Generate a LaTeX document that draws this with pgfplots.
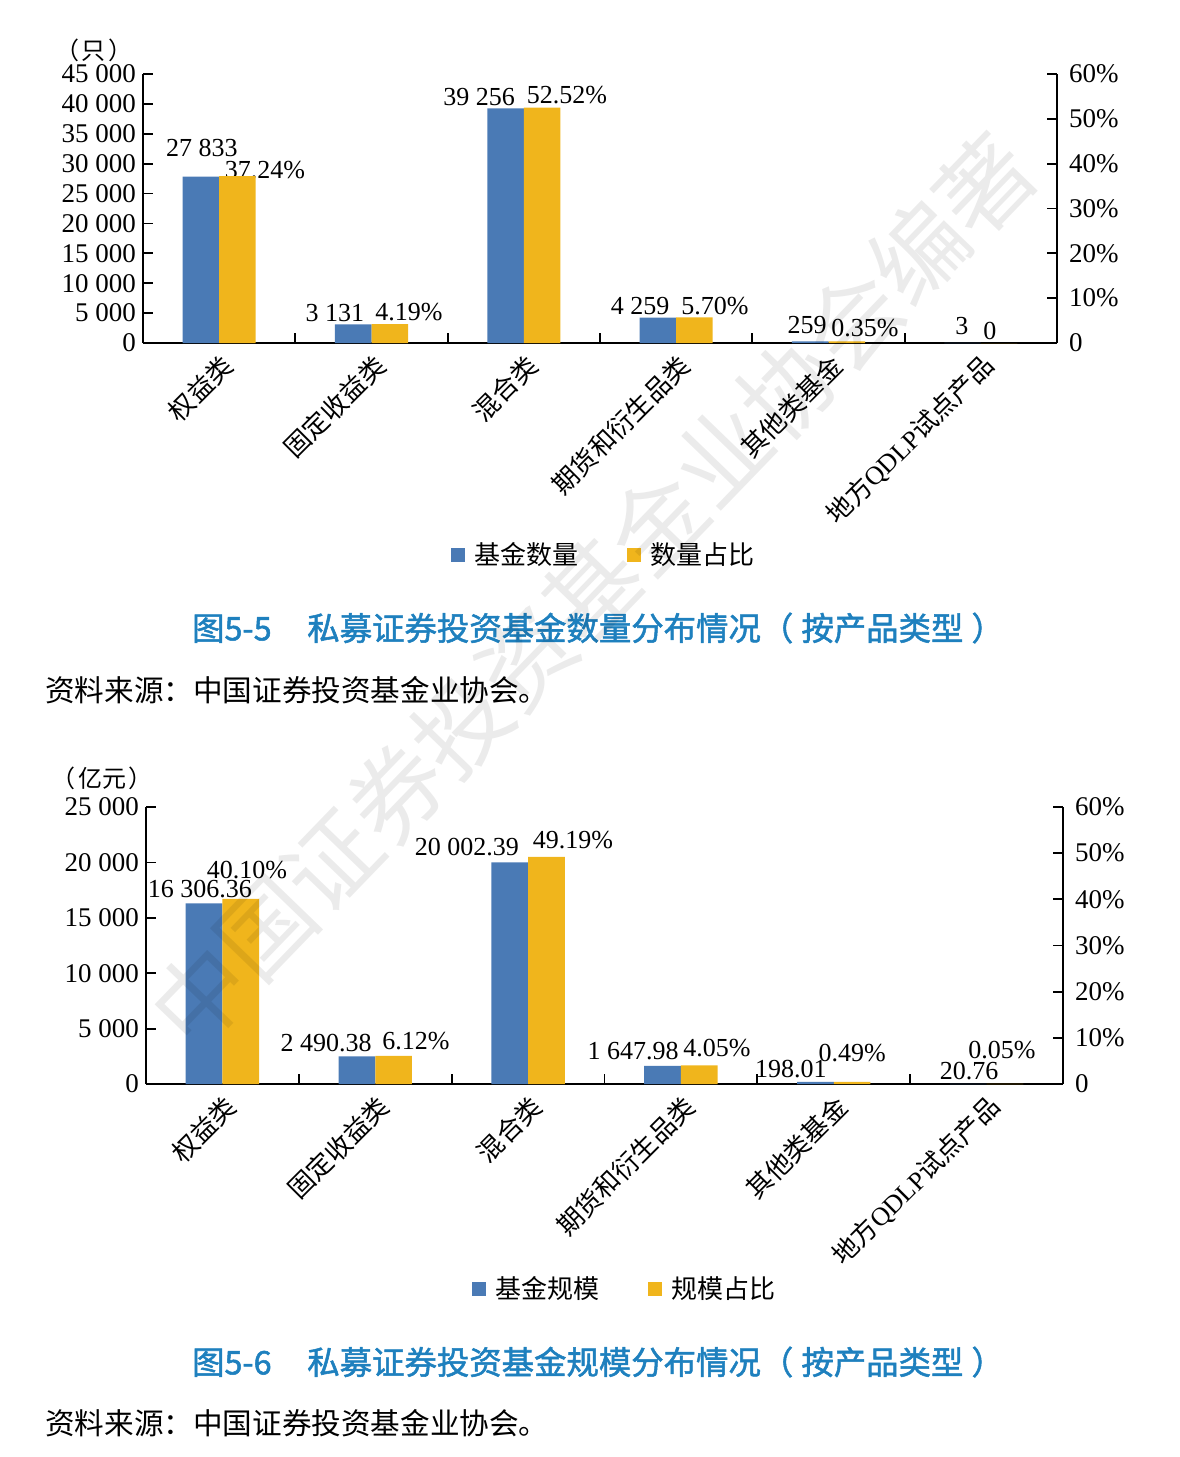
\documentclass[border=0pt]{standalone}
\usepackage{pgfplots}
\pgfplotsset{compat=1.18}
\usepackage{fontspec}
\setmainfont{Liberation Serif}
\newfontfamily\cjk{Noto Sans CJK SC}
\newfontfamily\cjkb[FakeBold=1.6]{Noto Sans CJK SC}
\definecolor{myblue}{RGB}{74,122,181}
\definecolor{myyellow}{RGB}{240,181,28}
\definecolor{capblue}{RGB}{30,128,190}
\newcommand\ts{\hspace{0.25em}}
\newcommand\fs[1]{\fontsize{#1}{#1}\selectfont}
\pgfplotsset{
  base/.style={scale only axis, xmin=-0.5, xmax=5.5, tick align=inside,
    major tick length=5pt, axis line style={line width=0.9pt},
    every tick/.append style={black, line width=0.9pt},
    scaled y ticks=false,
    tick label style={font=\fs{13.5}}, clip=false},
  catlabels/.style={xtick={0.5,1.5,2.5,3.5,4.5}, xticklabels={},
    extra x ticks={0,1,2,3,4,5},
    extra x tick labels={权益类,固定收益类,混合类,期货和衍生品类,其他类基金,{地方{\rmfamily QDLP}试点产品}},
    extra x tick style={major tick length=0pt,
      tick label style={rotate=45, anchor=east, inner sep=0pt, xshift=-3pt, yshift=-9.5pt, font=\cjk\fs{13}}}},
  legstyle/.style={legend style={at={#1}, anchor=center, draw=none, fill=none, legend columns=2,
      font=\cjk\fs{13}, /tikz/every even column/.append style={column sep=22pt}},
    legend image code/.code={\fill[##1] (0pt,-3.5pt) rectangle (7pt,3.5pt); \path (10pt,0pt);}},
  rightax/.style={yticklabel style={xshift=2.5pt}},
}
\begin{document}
\begin{tikzpicture}
\useasboundingbox (0pt,0pt) rectangle (589.5pt,-728.5pt);

% ---------------- Chart 1 ----------------
\begin{axis}[base, catlabels, at={(71.5pt,-171.5pt)}, anchor=south west,
  width=457pt, height=134.5pt, ymin=0, ymax=45000,
  axis y line*=left, axis x line*=bottom,
  ytick={0,5000,...,45000},
  yticklabels={0,5\ts000,10\ts000,15\ts000,20\ts000,25\ts000,30\ts000,35\ts000,40\ts000,45\ts000},
  legstyle={(0.505,-0.788)}]
\addplot[ybar, fill=myblue, draw=none, bar width=0.24, bar shift=-0.12, forget plot]
  coordinates {(0,27833) (1,3131) (2,39256) (3,4259) (4,259) (5,3)};
\addlegendimage{fill=myblue, draw=none}
\addlegendimage{fill=myyellow, draw=none}
\legend{基金数量,数量占比}
\node[font=\fs{13}] at (axis cs:-0.113,32622) {27\ts833};
\node[font=\fs{13}] at (axis cs:0.301,28941) {37.24\%};
\node[font=\fs{13}] at (axis cs:0.760,5019) {3\ts131};
\node[font=\fs{13}] at (axis cs:1.246,5186) {4.19\%};
\node[font=\fs{13}] at (axis cs:1.706,41153) {39\ts256};
\node[font=\fs{13}] at (axis cs:2.283,41488) {52.52\%};
\node[font=\fs{13}] at (axis cs:2.763,6190) {4\ts259};
\node[font=\fs{13}] at (axis cs:3.255,6190) {5.70\%};
\node[font=\fs{13}] at (axis cs:3.859,3011) {259};
\node[font=\fs{13}] at (axis cs:4.240,2509) {0.35\%};
\node[font=\fs{13}] at (axis cs:4.876,2844) {3};
\node[font=\fs{13}] at (axis cs:5.060,2007) {0};
\end{axis}
\begin{axis}[base, rightax, at={(71.5pt,-171.5pt)}, anchor=south west,
  width=457pt, height=134.5pt, ymin=0, ymax=60,
  axis y line*=right, axis x line=none,
  ytick={0,10,...,60}, yticklabels={0,10\%,20\%,30\%,40\%,50\%,60\%}]
\addplot[ybar, fill=myyellow, draw=none, bar width=0.24, bar shift=0.12]
  coordinates {(0,37.24) (1,4.19) (2,52.52) (3,5.70) (4,0.35) (5,0)};
\end{axis}
\node[font=\cjk\fs{12}] at (47pt,-25pt) {（\hspace{0.1em}只\hspace{0.1em}）};
\node[font=\cjkb\fs{16.2}, text=capblue] at (299pt,-314pt) {图5-5\hspace{1.1em}私募证券投资基金数量分布情况（\hspace{0.25em}按产品类型\hspace{0.25em}）};
\node[font=\cjk\fs{14.8}, anchor=west, inner sep=0pt] at (22.5pt,-345pt) {资料来源：中国证券投资基金业协会。};

% ---------------- Chart 2 ----------------
\begin{axis}[base, catlabels, at={(73pt,-542pt)}, anchor=south west,
  width=458.5pt, height=138.5pt, ymin=0, ymax=25000,
  axis y line*=left, axis x line*=bottom,
  ytick={0,5000,...,25000},
  yticklabels={0,5\ts000,10\ts000,15\ts000,20\ts000,25\ts000},
  legstyle={(0.523,-0.740)}]
\addplot[ybar, fill=myblue, draw=none, bar width=0.24, bar shift=-0.12, forget plot]
  coordinates {(0,16306.36) (1,2490.38) (2,20002.39) (3,1647.98) (4,198.01) (5,20.76)};
\addlegendimage{fill=myblue, draw=none}
\addlegendimage{fill=myyellow, draw=none}
\legend{基金规模,规模占比}
\node[font=\fs{13}] at (axis cs:-0.147,17599) {16\ts306.36};
\node[font=\fs{13}] at (axis cs:0.161,19314) {40.10\%};
\node[font=\fs{13}] at (axis cs:0.678,3700) {2\ts490.38};
\node[font=\fs{13}] at (axis cs:1.267,3881) {6.12\%};
\node[font=\fs{13}] at (axis cs:1.600,21389) {20\ts002.39};
\node[font=\fs{13}] at (axis cs:2.294,22021) {49.19\%};
\node[font=\fs{13}] at (axis cs:2.687,2978) {1\ts647.98};
\node[font=\fs{13}] at (axis cs:3.236,3249) {4.05\%};
\node[font=\fs{13}] at (axis cs:3.720,1354) {198.01};
\node[font=\fs{13}] at (axis cs:4.120,2798) {0.49\%};
\node[font=\fs{13}] at (axis cs:4.885,1173) {20.76};
\node[font=\fs{13}] at (axis cs:5.101,3069) {0.05\%};
\end{axis}
\begin{axis}[base, rightax, at={(73pt,-542pt)}, anchor=south west,
  width=458.5pt, height=138.5pt, ymin=0, ymax=60,
  axis y line*=right, axis x line=none,
  ytick={0,10,...,60}, yticklabels={0,10\%,20\%,30\%,40\%,50\%,60\%}]
\addplot[ybar, fill=myyellow, draw=none, bar width=0.24, bar shift=0.12]
  coordinates {(0,40.10) (1,6.12) (2,49.19) (3,4.05) (4,0.49) (5,0.05)};
\end{axis}
\node[font=\cjk\fs{12}] at (51pt,-389pt) {（\hspace{0.1em}亿元\hspace{0.1em}）};
\node[font=\cjkb\fs{16.2}, text=capblue] at (299pt,-681pt) {图5-6\hspace{1.1em}私募证券投资基金规模分布情况（\hspace{0.25em}按产品类型\hspace{0.25em}）};
\node[font=\cjk\fs{14.8}, anchor=west, inner sep=0pt] at (22.5pt,-711.5pt) {资料来源：中国证券投资基金业协会。};

% watermark
\node[rotate=46, font=\cjk\fs{47}, text=black, opacity=0.08] at (296pt,-295pt) {中国证券投资基金业协会编著};
\end{tikzpicture}
\end{document}
